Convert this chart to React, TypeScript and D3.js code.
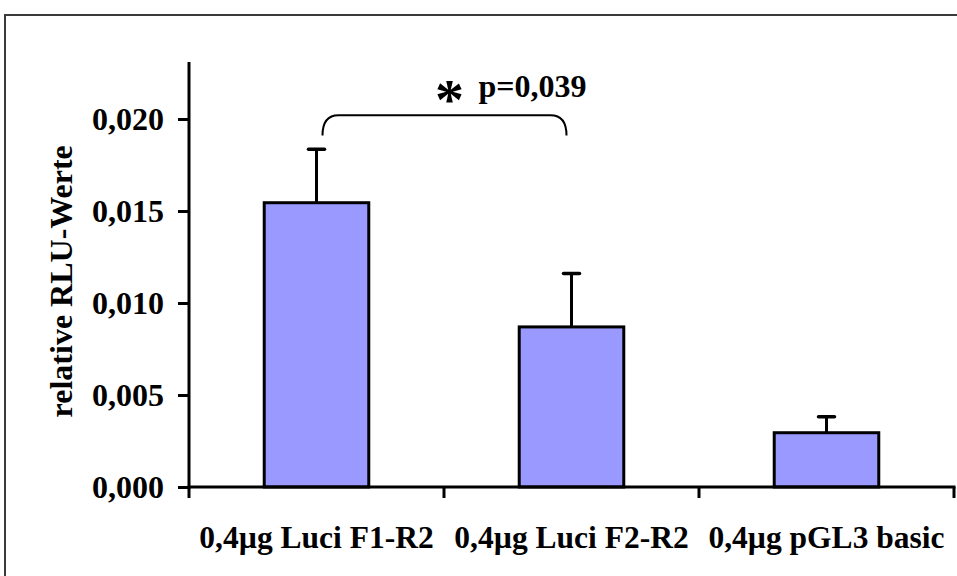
import React, { useEffect, useRef } from 'react';
import * as d3 from 'd3';

// data
const categories = ['0,4µg Luci F1-R2', '0,4µg Luci F2-R2', '0,4µg pGL3 basic'];
const values = [0.01545, 0.0087, 0.00295];
const errors = [0.0029, 0.0029, 0.00087];
const yTicks = [0, 0.005, 0.01, 0.015, 0.02];
const yAxisMax = 0.0231;
const yTitle = 'relative RLU-Werte';
const sigLabel = 'p=0,039';

const W = 957;
const H = 576;
const FONT = '"Liberation Serif", "Times New Roman", serif';

function App() {
    const ref = useRef<SVGSVGElement>(null);

    useEffect(() => {
        const svg = d3.select(ref.current);
        svg.selectAll('*').remove();

        const margin = { left: 189, right: 3, top: 119, bottom: 89 };

        const x = d3.scaleBand()
            .domain(categories)
            .range([margin.left, W - margin.right])
            .paddingInner(0.59)
            .paddingOuter(0.295);
        // band edges without padding for the tick marks
        const xEdge = d3.scaleLinear()
            .domain([0, categories.length])
            .range([margin.left, W - margin.right]);
        const y = d3.scaleLinear()
            .domain([0, 0.02])
            .range([H - margin.bottom, margin.top]);

        const fmt = (d: number) => d3.format('.3f')(d).replace('.', ',');

        // outer frame
        svg.append('rect')
            .attr('x', 5)
            .attr('y', 15)
            .attr('width', 1000)
            .attr('height', 1000)
            .attr('fill', 'none')
            .attr('stroke', '#3a3a3a')
            .attr('stroke-width', 2);

        // bars
        svg.append('g')
            .selectAll('rect')
            .data(values)
            .enter()
            .append('rect')
            .attr('x', (d, i) => x(categories[i])!)
            .attr('y', d => y(d))
            .attr('width', x.bandwidth())
            .attr('height', d => y(0) - y(d))
            .attr('fill', '#9999ff')
            .attr('stroke', '#000')
            .attr('stroke-width', 3);

        // error bars (upper only)
        const eb = svg.append('g')
            .selectAll('g')
            .data(values)
            .enter()
            .append('g')
            .attr('transform', (d, i) => 'translate(' + (x(categories[i])! + x.bandwidth() / 2) + ',0)');
        eb.append('line')
            .attr('x1', 0).attr('x2', 0)
            .attr('y1', d => y(d))
            .attr('y2', (d, i) => y(d + errors[i]))
            .attr('stroke', '#000')
            .attr('stroke-width', 3);
        eb.append('line')
            .attr('x1', -8).attr('x2', 8)
            .attr('y1', (d, i) => y(d + errors[i]))
            .attr('y2', (d, i) => y(d + errors[i]))
            .attr('stroke', '#000')
            .attr('stroke-width', 3.5)
            .attr('stroke-linecap', 'round');

        // y axis
        const yAxis = svg.append('g')
            .attr('transform', 'translate(' + margin.left + ',0)')
            .call(d3.axisLeft(y).tickValues(yTicks).tickFormat(fmt as any).tickSize(11).tickSizeOuter(0));
        yAxis.select('.domain').remove();
        yAxis.append('line')
            .attr('x1', 0).attr('x2', 0)
            .attr('y1', y(yAxisMax))
            .attr('y2', y(0) + 1.5)
            .attr('stroke', '#000')
            .attr('stroke-width', 3);
        yAxis.selectAll('.tick line').attr('stroke', '#000').attr('stroke-width', 3);
        yAxis.selectAll('.tick text')
            .attr('x', -25)
            .attr('dy', '0.34em')
            .attr('fill', '#000')
            .style('font-family', FONT)
            .style('font-weight', 'bold')
            .style('font-size', '32px');

        // x axis
        const xAxis = svg.append('g')
            .attr('transform', 'translate(0,' + y(0) + ')');
        xAxis.append('line')
            .attr('x1', margin.left - 1.5)
            .attr('x2', W - margin.right + 1.5)
            .attr('stroke', '#000')
            .attr('stroke-width', 3);
        xAxis.selectAll('.xtick')
            .data(d3.range(categories.length + 1))
            .enter()
            .append('line')
            .attr('x1', d => xEdge(d))
            .attr('x2', d => xEdge(d))
            .attr('y1', 0)
            .attr('y2', 11)
            .attr('stroke', '#000')
            .attr('stroke-width', 3);
        xAxis.selectAll('.xlabel')
            .data(categories)
            .enter()
            .append('text')
            .attr('x', d => x(d)! + x.bandwidth() / 2)
            .attr('y', 61)
            .attr('text-anchor', 'middle')
            .style('font-family', FONT)
            .style('font-weight', 'bold')
            .style('font-size', '31.5px')
            .text(d => d);

        // y title
        svg.append('text')
            .attr('transform', 'translate(72,' + (y(0.01118)) + ') rotate(-90)')
            .attr('text-anchor', 'middle')
            .style('font-family', FONT)
            .style('font-weight', 'bold')
            .style('font-size', '32px')
            .text(yTitle);

        // significance bracket between bar 1 and bar 2
        const c1 = x(categories[0])! + x.bandwidth() / 2 + 6;
        const c2 = x(categories[1])! + x.bandwidth() / 2 - 5;
        const top = y(0.0202);
        const bot = y(0.0191);
        const r = 16;
        const path = d3.path();
        path.moveTo(c1, bot);
        path.quadraticCurveTo(c1, top, c1 + r, top);
        path.lineTo(c2 - r, top);
        path.quadraticCurveTo(c2, top, c2, bot);
        svg.append('path')
            .attr('d', path.toString())
            .attr('fill', 'none')
            .attr('stroke', '#000')
            .attr('stroke-width', 2);

        svg.append('text')
            .attr('x', (c1 + c2) / 2 + 5)
            .attr('y', top + 4)
            .attr('text-anchor', 'middle')
            .style('font-family', FONT)
            .style('font-weight', 'bold')
            .style('font-size', '58px')
            .text('*');
        svg.append('text')
            .attr('x', (c1 + c2) / 2 + 34)
            .attr('y', y(0.0213) + 2)
            .style('font-family', FONT)
            .style('font-weight', 'bold')
            .style('font-size', '32px')
            .text(sigLabel);
    }, []);

    return (
        <svg
            ref={ref}
            width={W}
            height={H}
            style={{ position: 'absolute', left: 0, top: 0, background: '#fff', overflow: 'hidden' }}
        />
    );
}

export default App;
